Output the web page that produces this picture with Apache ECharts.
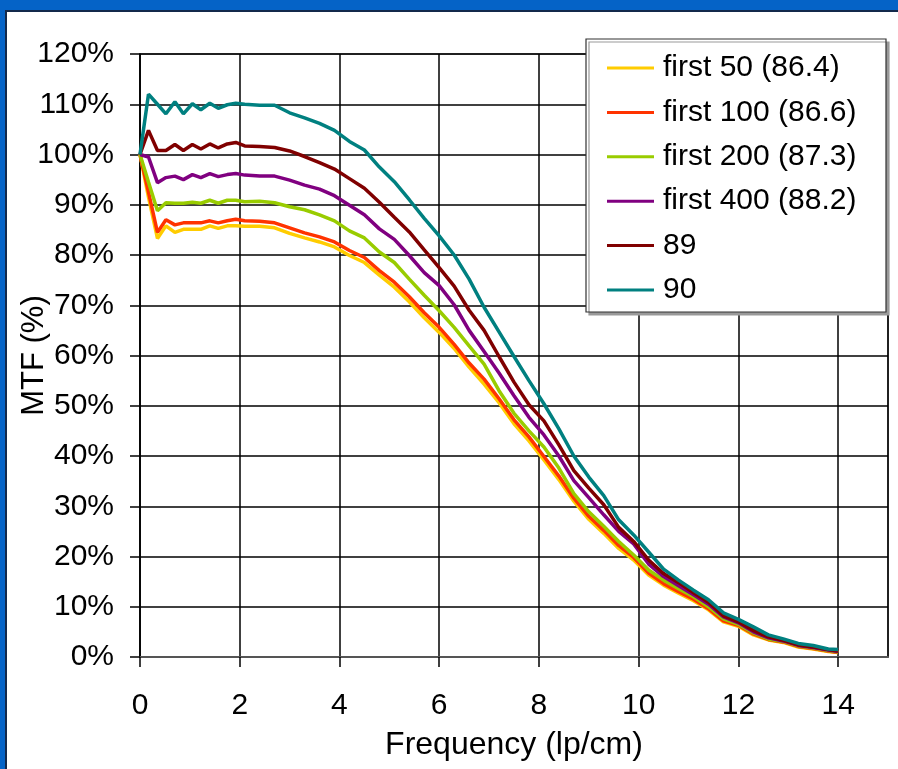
<!DOCTYPE html>
<html>
<head>
<meta charset="utf-8">
<script src="https://cdn.jsdelivr.net/npm/echarts@6/dist/echarts.min.js"></script>
<style>
  html, body { margin: 0; padding: 0; background: #fff; overflow: hidden; width: 100%; height: 100%; }
  #main { position: absolute; left: 0; top: 0; width: 100%; height: 100%; }
</style>
</head>
<body>
<div id="main"></div>
<script>
// frequency samples (lp/cm)
var freq = [0, 0.17, 0.35, 0.52, 0.7, 0.87, 1.05, 1.22, 1.4, 1.57, 1.75, 1.92, 2.1, 2.4, 2.7,
    3.0, 3.3, 3.6, 3.9, 4.2, 4.5, 4.8, 5.1, 5.4, 5.7, 6.0, 6.3, 6.6, 6.9, 7.2, 7.5, 7.8,
    8.1, 8.4, 8.7, 9.0, 9.3, 9.6, 9.9, 10.2, 10.5, 10.8, 11.1, 11.4, 11.7, 12.0, 12.3,
    12.6, 12.9, 13.2, 13.5, 13.8, 14.0];

// MTF values (%)
var first50 = [100, 91.5, 83.3, 85.8, 84.5, 85.1, 85.1, 85.1, 85.8, 85.3, 85.8, 85.8, 85.7, 85.7, 85.4,
    84.3, 83.4, 82.6, 81.6, 79.9, 78.5, 76.0, 73.6, 70.7, 67.5, 64.6, 61.4, 57.7, 54.3, 50.6, 46.4, 43.0,
    39.2, 35.3, 31.0, 27.4, 24.6, 21.6, 19.3, 16.3, 14.3, 12.7, 11.2, 9.4, 7.0, 6.1, 4.4,
    3.4, 2.9, 2.0, 1.6, 1.1, 0.9];
var first100 = [100, 92.5, 84.5, 87.0, 86.0, 86.4, 86.4, 86.4, 86.8, 86.4, 86.8, 87.1, 86.8, 86.7, 86.4,
    85.4, 84.4, 83.6, 82.6, 80.9, 79.5, 76.9, 74.6, 71.7, 68.5, 65.6, 62.2, 58.5, 55.3, 51.4, 47.2, 43.8,
    39.9, 36.0, 31.6, 28.0, 25.2, 22.2, 19.8, 16.7, 14.6, 13.0, 11.5, 9.6, 7.2, 6.3, 4.6,
    3.5, 3.0, 2.1, 1.7, 1.2, 0.9];
var first200 = [100, 94.5, 88.8, 90.4, 90.3, 90.3, 90.5, 90.3, 90.9, 90.3, 90.9, 90.9, 90.6, 90.7, 90.4,
    89.6, 89.0, 88.0, 86.8, 84.8, 83.4, 80.6, 78.5, 75.2, 72.0, 68.9, 65.6, 61.9, 58.3, 53.0, 48.5, 45.0,
    41.8, 37.6, 32.5, 28.9, 26.0, 23.0, 20.3, 17.3, 15.3, 13.6, 12.0, 10.0, 7.6, 6.5, 4.8,
    3.6, 3.1, 2.2, 1.8, 1.3, 1.0];
var first400 = [100, 99.5, 94.4, 95.4, 95.7, 95.0, 96.0, 95.4, 96.2, 95.6, 96.0, 96.2, 95.9, 95.7, 95.7,
    94.9, 93.9, 93.1, 91.8, 89.9, 88.0, 85.2, 83.1, 79.9, 76.5, 73.9, 70.1, 65.0, 60.8, 56.5, 52.0, 47.7,
    44.2, 40.0, 35.1, 31.7, 28.3, 25.0, 22.5, 18.5, 16.0, 14.2, 12.4, 10.5, 8.0, 6.8, 5.0,
    3.8, 3.2, 2.3, 1.9, 1.4, 1.1];
var s89 = [100, 104.8, 100.8, 100.8, 102.0, 100.8, 102.0, 101.1, 102.1, 101.3, 102.1, 102.4, 101.7, 101.6, 101.4,
    100.7, 99.6, 98.4, 97.1, 95.2, 93.3, 90.5, 87.5, 84.6, 81.0, 77.5, 73.8, 69.0, 65.0, 59.8, 54.7, 50.2,
    47.0, 42.2, 37.1, 33.6, 30.3, 25.8, 23.0, 19.3, 16.6, 14.8, 12.8, 10.9, 8.2, 7.0, 5.3,
    4.0, 3.3, 2.4, 2.0, 1.5, 1.2];
var s90 = [100, 112.0, 110.0, 108.1, 110.5, 108.1, 110.1, 108.9, 110.2, 109.2, 109.9, 110.2, 110.0, 109.8, 109.8,
    108.3, 107.3, 106.2, 104.8, 102.6, 100.9, 97.5, 94.6, 91.0, 87.3, 83.8, 80.0, 75.2, 69.6, 64.7, 59.8, 55.0,
    50.4, 45.4, 40.0, 35.8, 32.1, 27.3, 24.3, 20.9, 17.5, 15.3, 13.3, 11.4, 8.8, 7.5, 6.0,
    4.4, 3.6, 2.7, 2.3, 1.6, 1.5];

var names = ['first 50 (86.4)', 'first 100 (86.6)', 'first 200 (87.3)', 'first 400 (88.2)', '89', '90'];
var colors = ['#FFCC00', '#FF3300', '#99CC00', '#800080', '#800000', '#008080'];
var values = [first50, first100, first200, first400, s89, s90];

var FONT = '"Liberation Sans", Arial, sans-serif';

var series = [];
values.forEach(function(vals, i) {
    var pts = [];
    vals.forEach(function(v, j) { pts.push([freq[j], v]); });
    series.push({
        name: names[i],
        type: 'line',
        data: pts,
        symbol: 'none',
        showSymbol: false,
        lineStyle: { color: colors[i], width: 3.5 },
        itemStyle: { color: colors[i] },
        z: 3 + i
    });
});

var chart = echarts.init(document.getElementById('main'), null, { renderer: 'canvas' });
chart.setOption({
    animation: false,
    backgroundColor: '#fff',
    grid: {
        left: 140, top: 54, right: 10, bottom: 112,
        outerBoundsMode: 'none',
        containLabel: false,
        show: true, borderColor: '#808080', borderWidth: 2
    },
    graphic: [
        // blue slide frame
        { type: 'rect', shape: { x: 0, y: 0, width: 898, height: 10 }, style: { fill: '#0563C7' }, z: 100 },
        { type: 'rect', shape: { x: 0, y: 0, width: 5, height: 769 }, style: { fill: '#0563C7' }, z: 100 },
        { type: 'rect', shape: { x: 5, y: 10, width: 893, height: 2 }, style: { fill: '#13294b' }, z: 100 },
        { type: 'rect', shape: { x: 5, y: 10, width: 2, height: 759 }, style: { fill: '#13294b' }, z: 100 },
        // legend box
        {
            type: 'rect',
            shape: { x: 586, y: 39, width: 300, height: 273 },
            style: { fill: '#fff', stroke: '#333', lineWidth: 1.2,
                     shadowColor: '#999', shadowOffsetX: 3, shadowOffsetY: 3, shadowBlur: 0 },
            z: 50
        }
    ],
    legend: {
        orient: 'vertical',
        left: 607, top: 53,
        icon: 'rect',
        itemWidth: 47, itemHeight: 3,
        itemGap: 14.4,
        padding: 0,
        z: 60,
        textStyle: { color: '#000', fontSize: 30, fontFamily: FONT, lineHeight: 30, padding: [0, 0, 0, 4] },
        data: names
    },
    xAxis: {
        type: 'value',
        min: 0, max: 15, interval: 2,
        name: 'Frequency (lp/cm)',
        nameLocation: 'middle',
        nameGap: 72,
        nameMoveOverlap: false,
        nameTextStyle: { color: '#000', fontSize: 32, fontFamily: FONT },
        axisLine: { show: true, lineStyle: { color: '#555', width: 2 } },
        axisTick: { show: true, length: 10, lineStyle: { color: '#000', width: 1.5 } },
        axisLabel: { color: '#000', fontSize: 30, fontFamily: FONT, margin: 34, showMaxLabel: false },
        splitLine: { show: true, lineStyle: { color: '#000', width: 1.5 } }
    },
    yAxis: {
        type: 'value',
        min: 0, max: 120, interval: 10,
        name: 'MTF (%)',
        nameLocation: 'middle',
        nameGap: 90,
        nameMoveOverlap: false,
        nameTextStyle: { color: '#000', fontSize: 31, fontFamily: FONT },
        axisLine: { show: true, lineStyle: { color: '#000', width: 1.5 } },
        axisTick: { show: true, length: 10, lineStyle: { color: '#000', width: 1.5 } },
        axisLabel: { color: '#000', fontSize: 30, fontFamily: FONT, margin: 26, formatter: '{value}%' },
        splitLine: { show: true, lineStyle: { color: '#000', width: 1.5 } }
    },
    series: series
});
</script>
</body>
</html>
